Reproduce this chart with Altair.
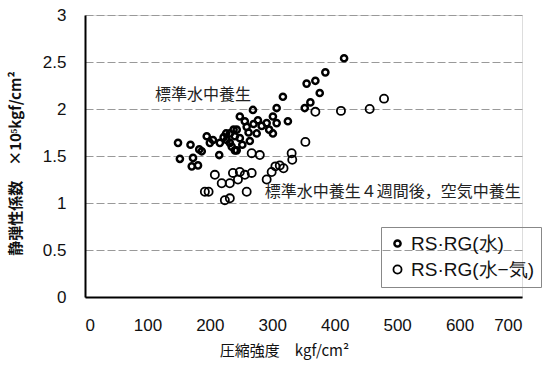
import altair as alt
import pandas as pd

# RS·RG(水) series
water_x = [149, 152, 169, 173, 171, 181, 183, 187, 195, 205, 200, 215, 216, 222, 227, 226,
           232, 235, 240, 243, 243, 248, 248, 252, 256, 259, 262, 264, 269, 270, 275, 277,
           283, 291, 295, 301, 301, 307, 307, 317, 325, 352, 355, 361, 369, 376, 385, 415,
           232, 238, 240]
water_y = [1.64, 1.47, 1.62, 1.48, 1.39, 1.40, 1.57, 1.55, 1.71, 1.67, 1.64, 1.51, 1.64, 1.70, 1.67, 1.74,
           1.74, 1.60, 1.71, 1.78, 1.56, 1.69, 1.92, 1.62, 1.87, 1.81, 1.75, 1.66, 1.99, 1.84, 1.74, 1.88,
           1.82, 1.85, 1.78, 1.92, 1.74, 2.01, 1.85, 2.13, 1.87, 2.01, 2.27, 2.07, 2.30, 2.17, 2.39, 2.54,
           1.64, 1.78, 1.56]

# RS·RG(水-気) series
air_x = [192, 198, 208, 219, 224, 232, 232, 237, 245, 248, 256, 259, 267, 267, 280, 291,
         299, 305, 312, 318, 331, 332, 353, 369, 410, 456, 479]
air_y = [1.12, 1.12, 1.30, 1.21, 1.03, 1.05, 1.21, 1.32, 1.25, 1.33, 1.30, 1.12, 1.32, 1.53, 1.51, 1.25,
         1.33, 1.39, 1.40, 1.37, 1.53, 1.46, 1.65, 1.97, 1.98, 2.00, 2.11]

series_names = ["RS·RG(水)", "RS·RG(水−気)"]

x_ticks = [0, 100, 200, 300, 400, 500, 600, 700]
y_ticks = [0, 0.5, 1, 1.5, 2, 2.5, 3]

ann_text = ["標準水中養生", "標準水中養生４週間後，空気中養生"]
ann_x = [112, 288]
ann_y = [2.15, 1.12]

df = pd.DataFrame({
    "x": water_x + air_x,
    "y": water_y + air_y,
    "series": [series_names[0]] * len(water_x) + [series_names[1]] * len(air_x),
})
ann = pd.DataFrame({"t": ann_text, "x": ann_x, "y": ann_y})

JP = "Noto Sans CJK JP"
LAT = "Liberation Sans"

xscale = alt.Scale(domain=[0, 700], nice=False, zero=True)
yscale = alt.Scale(domain=[0, 3], nice=False)

points = alt.Chart(df).mark_point(filled=False, opacity=1, color="black").encode(
    x=alt.X("x:Q", scale=xscale,
            axis=alt.Axis(values=x_ticks, title="圧縮強度　kgf/cm²", grid=False,
                          labelFont=LAT, labelFontSize=17, labelColor="#111",
                          labelPadding=20, ticks=False,
                          domain=True, domainColor="black", domainWidth=2,
                          titleFont=JP, titleFontSize=15, titleFontWeight="normal",
                          titleColor="#111", titleX=199, titleY=46)),
    y=alt.Y("y:Q", scale=yscale,
            axis=alt.Axis(values=y_ticks, format="~g", title="静弾性係数　×10⁵kgf/cm²",
                          labelFont=LAT, labelFontSize=17, labelColor="#111",
                          labelPadding=19, ticks=False,
                          domain=True, domainColor="black", domainWidth=2,
                          gridColor="#999", gridDash=[8, 3], gridWidth=1,
                          titleFont=JP, titleFontSize=15, titleFontWeight="bold",
                          titleColor="#111", titleX=-62, titleY=148)),
    size=alt.Size("series:N", scale=alt.Scale(domain=series_names, range=[38, 66]),
                  legend=alt.Legend(title=None, orient="none", legendX=296, legendY=212,
                                    labelFont=LAT, labelFontSize=19, labelColor="#111",
                                    strokeColor="#888", padding=7, rowPadding=6,
                                    symbolStrokeColor="black", symbolStrokeWidth=2)),
    strokeWidth=alt.StrokeWidth("series:N",
                                scale=alt.Scale(domain=series_names, range=[2.5, 1.8]),
                                legend=None),
)

texts = alt.Chart(ann).mark_text(align="left", baseline="middle", font=JP, fontSize=16,
                                 color="#222").encode(
    x=alt.X("x:Q", scale=xscale), y=alt.Y("y:Q", scale=yscale), text="t:N")

chart = alt.layer(points, texts).properties(
    width=437, height=282,
    autosize=alt.AutoSizeParams(type="none"),
    padding={"left": 85, "top": 15, "right": 22, "bottom": 68},
).configure_view(stroke="#000", strokeWidth=1.5).configure(background="white")

chart.save("out.html", embed_options={"renderer": "svg", "actions": False})
